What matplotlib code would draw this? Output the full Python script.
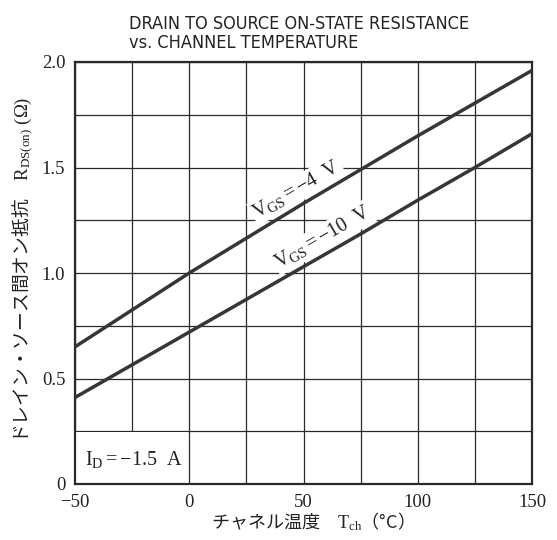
import matplotlib
matplotlib.use("Agg")
import matplotlib.pyplot as plt
from matplotlib import font_manager
from matplotlib.font_manager import FontProperties
from matplotlib.patches import Rectangle
from matplotlib.ticker import MultipleLocator, FixedLocator, FixedFormatter

# ---- data ----
temp_c = [-50, -25, 0, 25, 50, 75, 100, 125, 150]
rds_vgs4 = [0.65, 0.825, 1.00, 1.165, 1.33, 1.49, 1.65, 1.805, 1.96]
rds_vgs10 = [0.41, 0.565, 0.72, 0.875, 1.03, 1.185, 1.345, 1.50, 1.66]
xtick_vals = [-50, 0, 50, 100, 150]
xtick_labels = ["\u221250", "0", "50", "100", "150"]
ytick_vals = [0, 0.5, 1.0, 1.5, 2.0]
ytick_labels = ["0", "0.5", "1.0", "1.5", "2.0"]
title_lines = "DRAIN TO SOURCE ON-STATE RESISTANCE\nvs. CHANNEL TEMPERATURE"
label_vgs4 = r"$\mathrm{V_{GS}}=-4$  V"
label_vgs10 = r"$\mathrm{V_{GS}}=-10$  V"
label_id = r"$\mathrm{I_D}=-1.5$  A"
xlabel = "チャネル温度　$\\mathrm{T_{ch}}$（°C）"
ylabel = "ドレイン・ソース間オン抵抗　$\\mathrm{R_{DS(on)}}\\ (\\Omega)$"

# pick a condensed sans for the title if one is available
cond_path = font_manager.findfont(FontProperties(family="DejaVu Sans", stretch="condensed"))
if "Condensed" in cond_path:
    title_kw = dict(family="DejaVu Sans", stretch="condensed", fontsize=13)
else:
    title_kw = dict(family="Roboto", fontsize=12.5)

plt.rcParams["mathtext.fontset"] = "custom"
plt.rcParams["mathtext.rm"] = "Liberation Serif"
plt.rcParams["mathtext.it"] = "Liberation Serif:italic"
plt.rcParams["mathtext.bf"] = "Liberation Serif:bold"
plt.rcParams["font.family"] = ["Liberation Serif", "DejaVu Serif"]

fig = plt.figure(figsize=(5.57, 5.40), dpi=100)
ax = fig.add_axes([75 / 557, 1 - 484 / 540, (532 - 75) / 557, (484 - 62) / 540])

ink = "#2a2a2a"
ax.plot(temp_c, rds_vgs4, color="#363636", lw=2.5, zorder=3)
ax.plot(temp_c, rds_vgs10, color="#363636", lw=2.5, zorder=3)

ax.set_xlim(-50, 150)
ax.set_ylim(0, 2.0)
ax.xaxis.set_major_locator(FixedLocator(xtick_vals))
ax.xaxis.set_major_formatter(FixedFormatter(xtick_labels))
ax.yaxis.set_major_locator(FixedLocator(ytick_vals))
ax.yaxis.set_major_formatter(FixedFormatter(ytick_labels))
ax.xaxis.set_minor_locator(MultipleLocator(25))
ax.yaxis.set_minor_locator(MultipleLocator(0.25))
ax.set_axisbelow(True)
ax.grid(which="both", color=ink, lw=0.9)
ax.tick_params(which="both", length=0, pad=7, labelsize=13.5, colors="#222222")
for sp in ax.spines.values():
    sp.set_linewidth(1.6)
    sp.set_color(ink)

# white box behind the current label (breaks the -25 grid line)
ax.add_patch(Rectangle((-49.6, 0.004), 48.5, 0.242, facecolor="white",
                       edgecolor="none", zorder=1.5))
ax.text(-45.5, 0.115, label_id, fontsize=14.5, ha="left", va="center",
        color="#222222", zorder=4, family="Liberation Serif")

bbox = dict(facecolor="white", edgecolor="none", pad=1.5)
ax.text(47.0, 1.395, label_vgs4, fontsize=14.5, rotation=30, ha="center",
        va="center", rotation_mode="anchor", color="#222222", zorder=4,
        bbox=bbox, family="Liberation Serif")
ax.text(58.5, 1.17, label_vgs10, fontsize=14.5, rotation=30, ha="center",
        va="center", rotation_mode="anchor", color="#222222", zorder=4,
        bbox=bbox, family="Liberation Serif")

fig.text(129 / 557, 1 - 15 / 540, title_lines, ha="left", va="top",
         linespacing=1.1, color="#222222", **title_kw)

fig.text(308 / 557, 1 - 522 / 540, xlabel, fontsize=13, ha="center",
         va="center", family=["Noto Sans CJK JP", "DejaVu Sans"], color="#222222")
fig.text(23 / 557, 1 - 270 / 540, ylabel, fontsize=13.5, ha="center",
         va="center", rotation=90, family=["Noto Sans CJK JP", "DejaVu Sans"],
         color="#222222")

fig.savefig("out.png", dpi=100, facecolor="white")
